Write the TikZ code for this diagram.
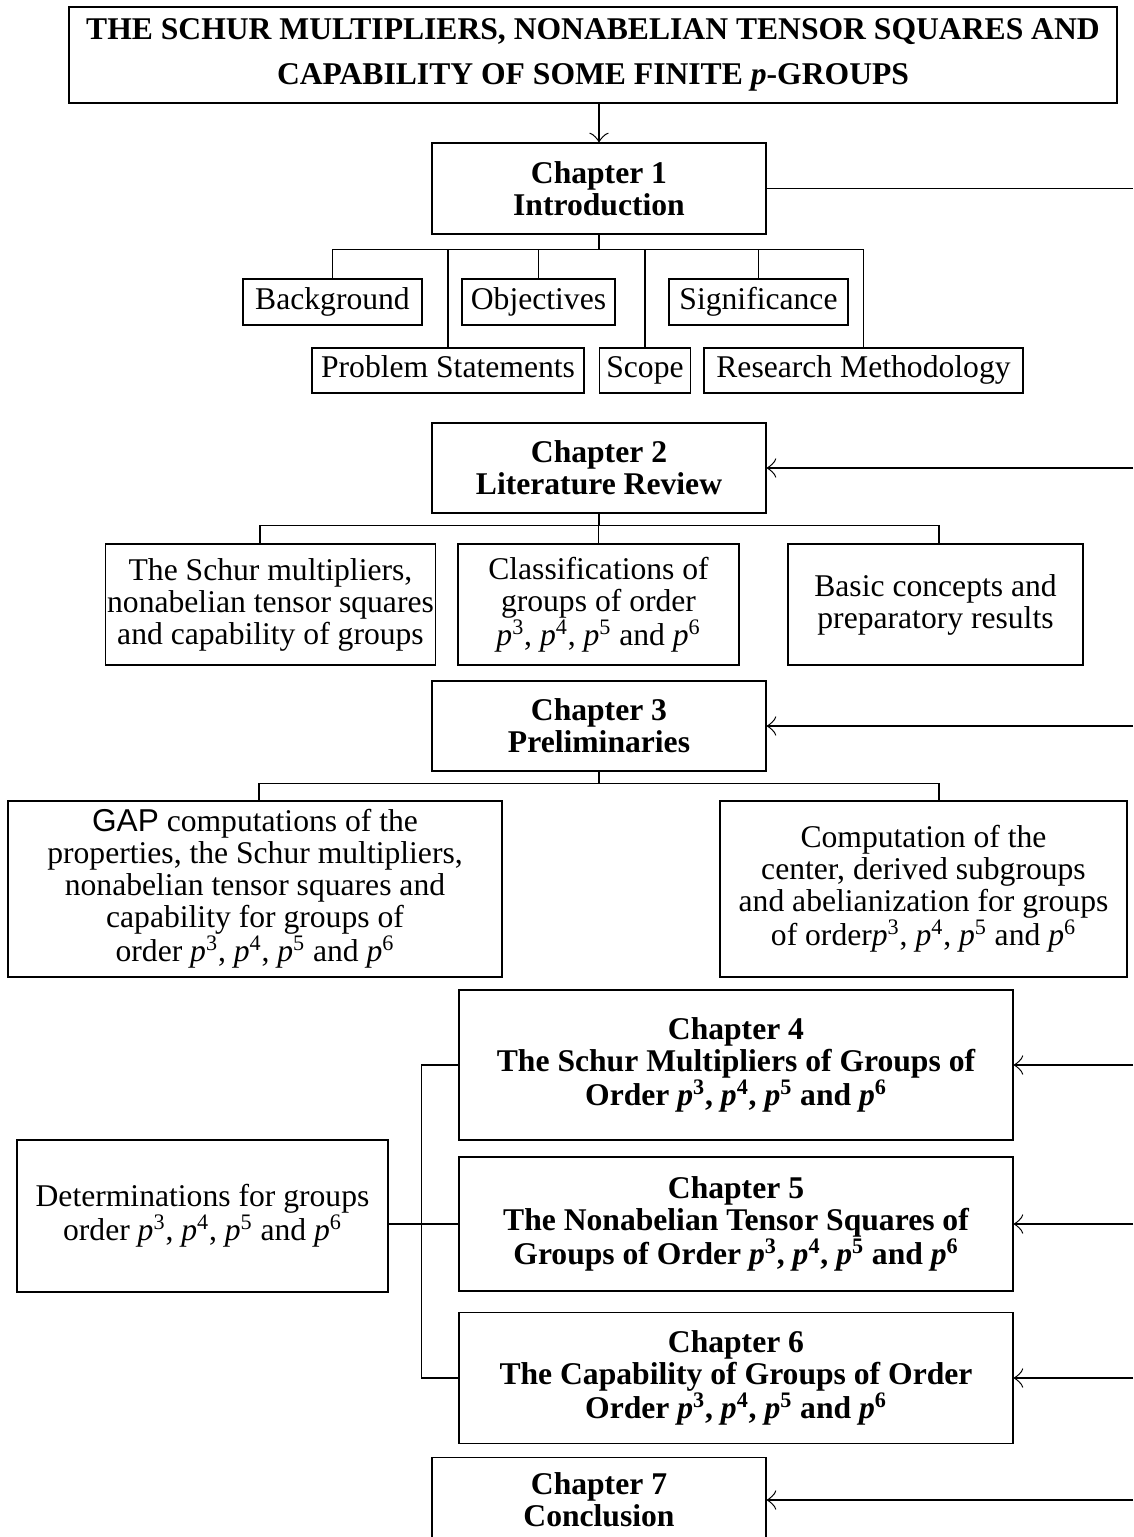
\documentclass[tikz,border=0pt]{standalone}
\usepackage{fontspec}
\usetikzlibrary{arrows.meta}
\setmainfont{Liberation Serif}
\setsansfont{Liberation Sans}
\newcommand{\pw}[1]{\textit{p}\textsuperscript{#1}}
\newcommand{\porders}{\pw{3}, \pw{4}, \pw{5} and \pw{6}}

\begin{document}
\begin{tikzpicture}[x=0.02cm,y=-0.02cm,line width=0.7pt,
		>={Classical TikZ Rightarrow[length=5.5pt,width=11pt]},
		box/.style={draw,align=center,inner sep=1pt,font=\fontsize{18}{18.2}\selectfont},
		part/.style={box,text height=12.5pt,text depth=4pt},
		chap/.style={box,font=\bfseries\fontsize{18}{18.2}\selectfont}]
		\useasboundingbox (0,0) rectangle (1133,1537);
		\clip (0,0) rectangle (1133,1537);
		\coordinate (rail) at (1133,0);
		% title and chapter boxes
		\node [chap,font=\bfseries\fontsize{18}{25.5}\selectfont,minimum width=20.96cm,minimum height=1.92cm] (title) at (593,55) {THE SCHUR MULTIPLIERS, NONABELIAN TENSOR SQUARES AND\\CAPABILITY OF SOME FINITE \textit{p}-GROUPS};
		\node [chap,minimum width=6.68cm,minimum height=1.82cm] (ch1) at (599,188.5) {Chapter 1\\Introduction};
		\node [chap,minimum width=6.68cm,minimum height=1.8cm] (ch2) at (599,468) {Chapter 2\\Literature Review};
		\node [chap,minimum width=6.68cm,minimum height=1.8cm] (ch3) at (599,726) {Chapter 3\\Preliminaries};
		\node [chap,minimum width=11.08cm,minimum height=3cm] (ch4) at (736,1065) {Chapter 4\\The Schur Multipliers of Groups of\\Order \porders};
		\node [chap,minimum width=11.08cm,minimum height=2.68cm] (ch5) at (736,1224) {Chapter 5\\The Nonabelian Tensor Squares of\\Groups of Order \porders};
		\node [chap,minimum width=11.08cm,minimum height=2.62cm] (ch6) at (736,1378) {Chapter 6\\The Capability of Groups of Order\\Order \porders};
		\node [chap,minimum width=6.68cm,minimum height=1.7cm] (ch7) at (599,1500) {Chapter 7\\Conclusion};
		% chapter 1 parts
		\node [part,minimum width=3.58cm,minimum height=0.92cm] (bg) at (332.5,302) {Background};
		\node [part,minimum width=3.06cm,minimum height=0.92cm] (obj) at (538.5,302) {Objectives};
		\node [part,minimum width=3.58cm,minimum height=0.92cm] (sig) at (758.5,302) {Significance};
		\node [part,minimum width=5.44cm,minimum height=0.9cm] (prob) at (448,370.5) {Problem Statements};
		\node [part,minimum width=1.82cm,minimum height=0.9cm] (scope) at (645,370.5) {Scope};
		\node [part,minimum width=6.38cm,minimum height=0.9cm] (meth) at (863.5,370.5) {Research Methodology};
		% chapter 2 parts
		\node [box,minimum width=6.56cm,minimum height=2.42cm] (schur) at (270.5,604.5) {The Schur multipliers,\\nonabelian tensor squares\\and capability of groups};
		\node [box,minimum width=5.62cm,minimum height=2.42cm] (class) at (598.5,604.5) {Classifications of\\groups of order\\\porders};
		\node [box,minimum width=5.9cm,minimum height=2.42cm] (basic) at (935.5,604.5) {Basic concepts and\\preparatory results};
		% chapter 3 parts
		\node [box,minimum width=9.88cm,minimum height=3.52cm] (gap) at (255,889) {\textsf{GAP} computations of the\\properties, the Schur multipliers,\\nonabelian tensor squares and\\capability for groups of\\order \porders};
		\node [box,minimum width=8.14cm,minimum height=3.52cm] (comp) at (923.5,889) {Computation of the\\center, derived subgroups\\and abelianization for groups\\of order\pw{3}, \pw{4}, \pw{5} and \pw{6}};
		\node [box,minimum width=7.42cm,minimum height=3.04cm] (det) at (202.5,1216) {Determinations for groups\\order \porders};
		% connectors
		\draw [->] (title.south -| ch1.north) -- (ch1.north);
		\foreach \n in {bg,obj,sig,prob,scope,meth}
			\draw (ch1.south) -- ++(0,15) -| (\n.north);
		\draw (ch2.south) -- ++(0,12) -| ([xshift=-0.21cm]schur.north);
		\draw (ch2.south) -- ++(0,12) -| (class.north);
		\draw (ch2.south) -- ++(0,12) -| ([xshift=0.07cm]basic.north);
		\draw (ch3.south) -- ++(0,12) -| ([xshift=0.08cm]gap.north);
		\draw (ch3.south) -- ++(0,12) -| ([xshift=0.31cm]comp.north);
		\draw (ch4.west) -- ++(-37,0) |- (ch6.west);
		\draw (det.east |- ch5.west) -- (ch5.west);
		\draw (ch1.east) -- (ch1.east -| rail);
		\foreach \n in {ch2,ch3,ch4,ch5,ch6,ch7}
			\draw [->] (\n.east -| rail) -- (\n.east);
	\end{tikzpicture}
\end{document}
